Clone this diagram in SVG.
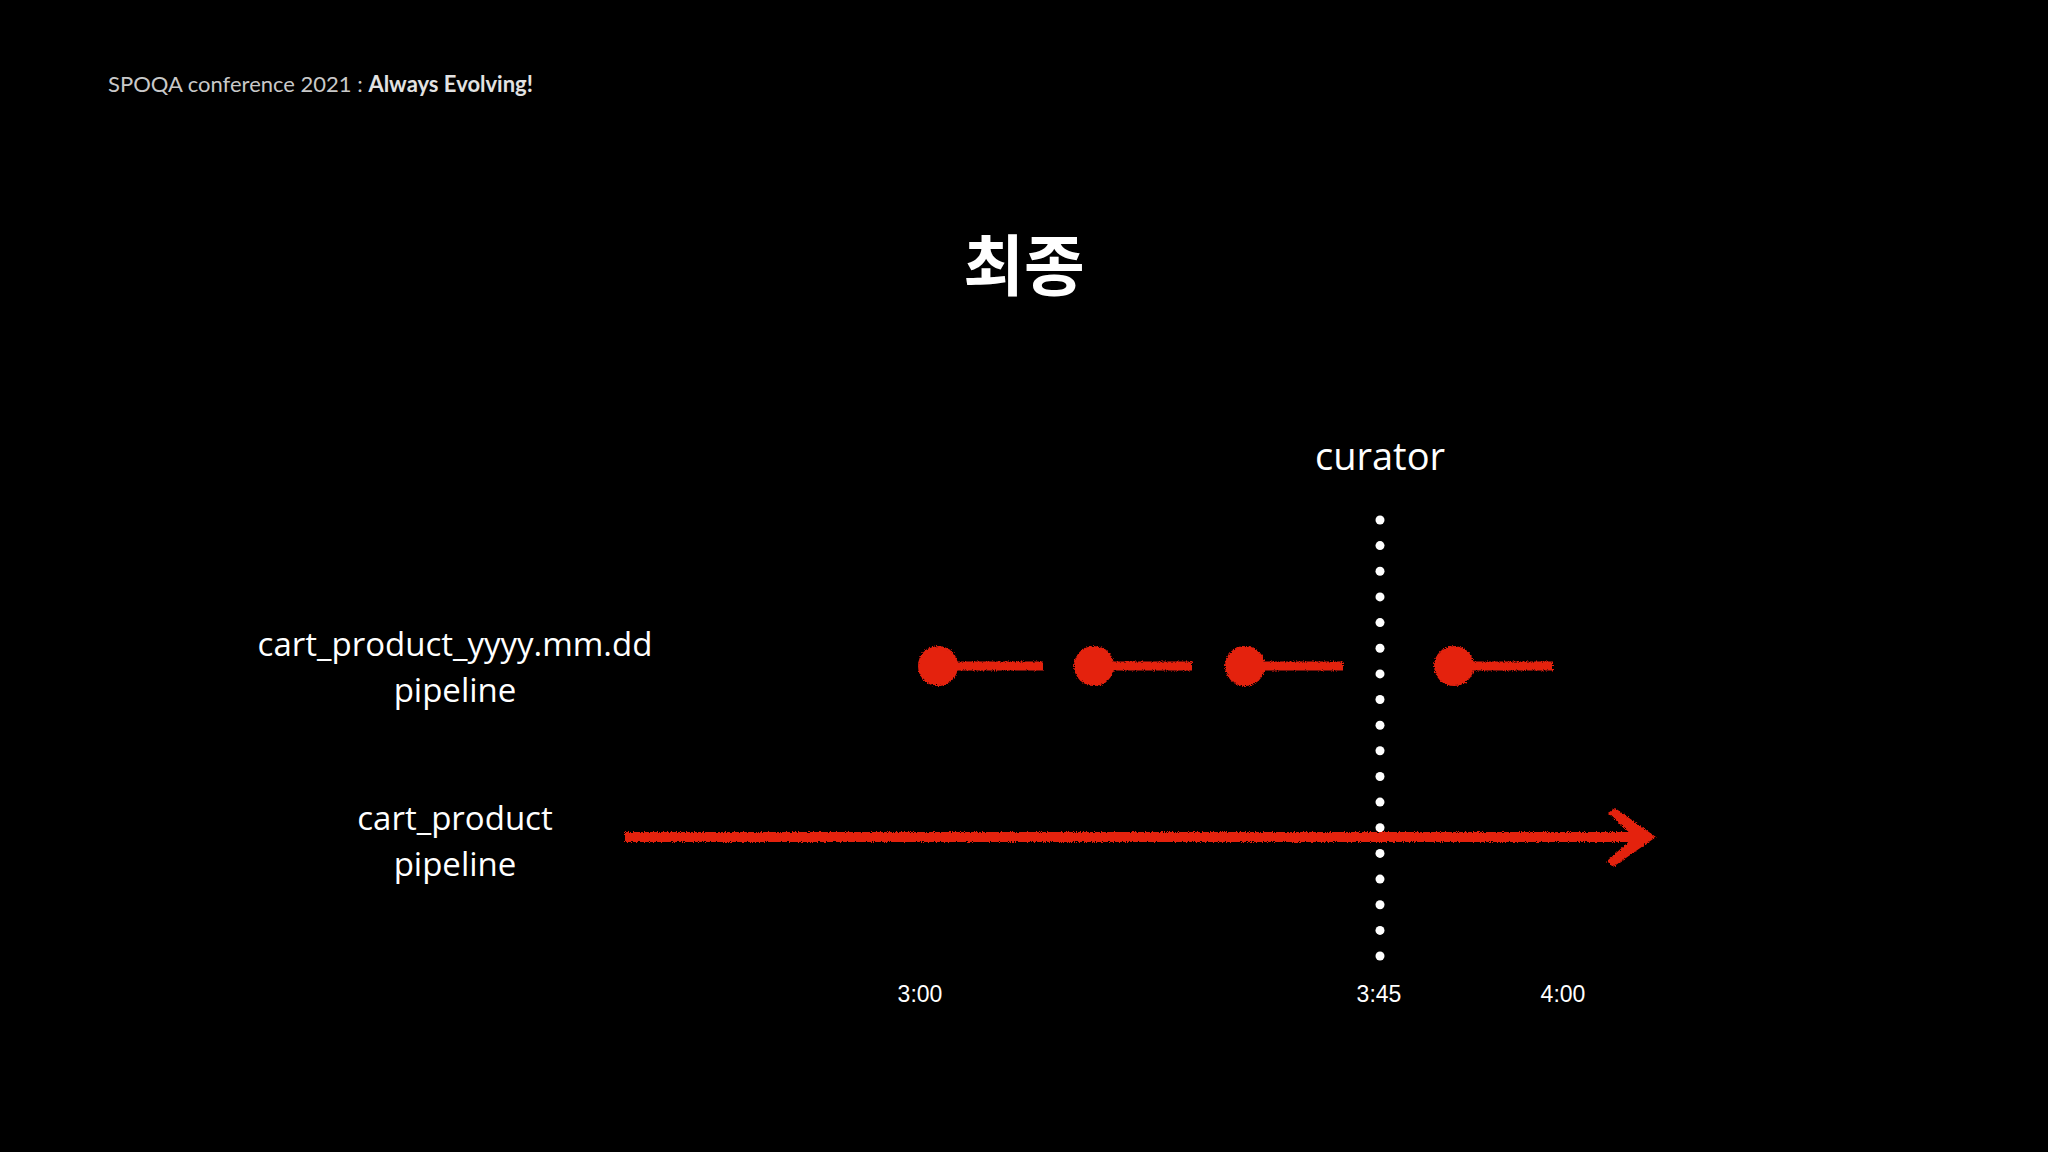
<svg xmlns="http://www.w3.org/2000/svg" width="2048" height="1152" viewBox="0 0 2048 1152">
  <defs>
    <filter id="rough" x="-5%" y="-50%" width="110%" height="200%">
      <feTurbulence type="fractalNoise" baseFrequency="0.9" numOctaves="2" seed="3" result="n"/>
      <feDisplacementMap in="SourceGraphic" in2="n" scale="4" xChannelSelector="R" yChannelSelector="G"/>
    </filter>
  </defs>
  <style>
    .hdr { font-family: "Lato", "Liberation Sans", sans-serif; font-size: 22px; fill: #c9c9c9; }
    .hdrb { font-weight: bold; fill: #e2e2e2; }
    .title { font-family: "Noto Sans CJK KR", "Noto Sans", sans-serif; font-weight: bold; font-size: 66px; fill: #ffffff; }
    .lbl { font-family: "Open Sans", "Noto Sans", sans-serif; font-size: 33px; fill: #ffffff; text-anchor: middle; }
    .time { font-family: "Liberation Sans", sans-serif; font-size: 23px; fill: #ffffff; text-anchor: middle; }
    .red { fill: #e4200f; }
    .redline { stroke: #e4200f; fill: none; }
    .wdot { fill: #ffffff; }
  </style>
  <rect width="2048" height="1152" fill="#000000"/>

  <g id="header">
    <text class="hdr" x="108" y="92">SPOQA conference 2021 : <tspan class="hdrb">Always Evolving!</tspan></text>
  </g>

  <g id="title">
    <text class="title" x="1024" y="290" text-anchor="middle">최종</text>
  </g>

  <g id="label-daily">
    <text class="lbl" x="455" y="656">cart_product_yyyy.mm.dd</text>
    <text class="lbl" x="455" y="702">pipeline</text>
  </g>

  <g id="label-main">
    <text class="lbl" x="455" y="830">cart_product</text>
    <text class="lbl" x="455" y="876">pipeline</text>
  </g>

  <g id="curator">
    <text class="lbl" x="1380" y="470" style="font-size:38px">curator</text>
    <g id="curator-line">
      <circle class="wdot" cx="1380" cy="520" r="4.5"/>
      <circle class="wdot" cx="1380" cy="545.6" r="4.5"/>
      <circle class="wdot" cx="1380" cy="571.3" r="4.5"/>
      <circle class="wdot" cx="1380" cy="596.9" r="4.5"/>
      <circle class="wdot" cx="1380" cy="622.6" r="4.5"/>
      <circle class="wdot" cx="1380" cy="648.2" r="4.5"/>
      <circle class="wdot" cx="1380" cy="673.9" r="4.5"/>
      <circle class="wdot" cx="1380" cy="699.5" r="4.5"/>
      <circle class="wdot" cx="1380" cy="725.2" r="4.5"/>
      <circle class="wdot" cx="1380" cy="750.8" r="4.5"/>
      <circle class="wdot" cx="1380" cy="776.5" r="4.5"/>
      <circle class="wdot" cx="1380" cy="802.1" r="4.5"/>
      <circle class="wdot" cx="1380" cy="827.8" r="4.5"/>
      <circle class="wdot" cx="1380" cy="853.4" r="4.5"/>
      <circle class="wdot" cx="1380" cy="879.1" r="4.5"/>
      <circle class="wdot" cx="1380" cy="904.7" r="4.5"/>
      <circle class="wdot" cx="1380" cy="930.4" r="4.5"/>
      <circle class="wdot" cx="1380" cy="956" r="4.5"/>
    </g>
  </g>

  <g id="connectors">
    <g id="daily-runs" filter="url(#rough)">
      <g id="run-1">
        <circle class="red" cx="938" cy="666" r="20"/>
        <line class="redline" x1="950" y1="666" x2="1043" y2="666" stroke-width="9"/>
      </g>
      <g id="run-2">
        <circle class="red" cx="1094" cy="666" r="20"/>
        <line class="redline" x1="1106" y1="666" x2="1192" y2="666" stroke-width="9"/>
      </g>
      <g id="run-3">
        <circle class="red" cx="1245" cy="666" r="20"/>
        <line class="redline" x1="1257" y1="666" x2="1343" y2="666" stroke-width="9"/>
      </g>
      <g id="run-4">
        <circle class="red" cx="1454" cy="666" r="20"/>
        <line class="redline" x1="1466" y1="666" x2="1553" y2="666" stroke-width="9"/>
      </g>
    </g>
    <g id="main-arrow" filter="url(#rough)">
      <line class="redline" x1="625" y1="837" x2="1645" y2="837" stroke-width="10"/>
      <path class="red" d="M1608,813 L1615,808 L1656,837 L1613,867 L1607,861 L1634,837 Z"/>
    </g>
  </g>

  <g id="time-axis">
    <text class="time" x="920" y="1002">3:00</text>
    <text class="time" x="1379" y="1002">3:45</text>
    <text class="time" x="1563" y="1002">4:00</text>
  </g>
</svg>
